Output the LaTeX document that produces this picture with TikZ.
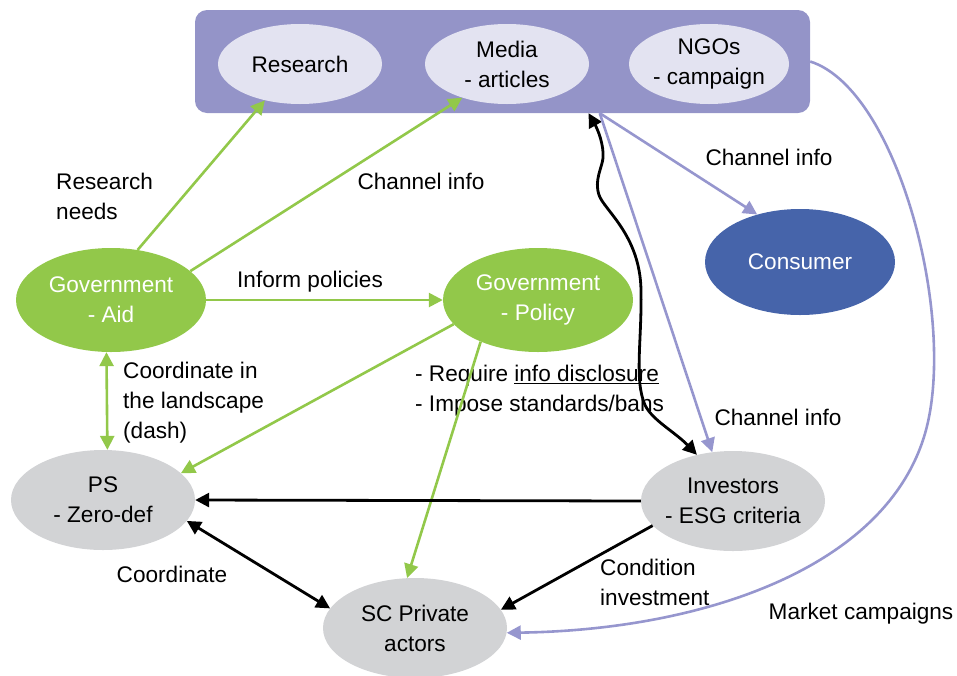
\documentclass[tikz,border=0pt]{standalone}
\usepackage{fontspec}
\setmainfont{Liberation Sans}
\usetikzlibrary{shapes.geometric,arrows.meta}
\definecolor{boxc}{RGB}{148,148,200}
\definecolor{lightc}{RGB}{227,227,241}
\definecolor{greenc}{RGB}{146,200,74}
\definecolor{consc}{RGB}{70,100,170}
\definecolor{grayc}{RGB}{210,211,213}
\definecolor{linec}{RGB}{150,150,206}
\begin{document}
\begin{tikzpicture}[x=1pt,y=-1pt,
  font=\fontsize{22.6}{30}\selectfont,
  ell/.style={ellipse, inner sep=-14pt, align=center},
  topell/.style={ell, fill=lightc, minimum width=164pt, minimum height=80pt},
  greenell/.style={ell, fill=greenc, text=white, minimum width=190pt, minimum height=104pt},
  grayell/.style={ell, fill=grayc, minimum width=184pt, minimum height=100pt},
  lbl/.style={align=left, inner sep=0pt},
  garrow/.style={draw=greenc, line width=2.6pt, -{Triangle[length=14pt,width=14pt]}},
  gdarrow/.style={draw=greenc, line width=2.6pt, {Triangle[length=14pt,width=14pt]}-{Triangle[length=14pt,width=14pt]}},
  parrow/.style={draw=linec, line width=2.6pt, -{Triangle[length=14pt,width=14pt]}},
  karrow/.style={draw=black, line width=2.8pt, -{Triangle[length=14pt,width=14pt]}},
  kdarrow/.style={draw=black, line width=2.8pt, {Triangle[length=14pt,width=14pt]}-{Triangle[length=14pt,width=14pt]}}
]
\useasboundingbox (0,0) rectangle (957,675);

% top box
\node[fill=boxc, rounded corners=12pt, inner sep=0pt, minimum width=615pt, minimum height=103pt] (box) at (502.5,61.5) {};
\node[topell] (res) at (300,64) {Research};
\node[topell] (med) at (507,64) {Media\\- articles};
\node[topell, minimum width=160pt] (ngo) at (709,64) {NGOs\\- campaign};

% other nodes
\node[ell, fill=consc, text=white, minimum width=190pt, minimum height=106pt] (cons) at (800,262) {Consumer};
\node[greenell] (ga) at (111,300) {Government\\- Aid};
\node[greenell] (gp) at (538,300) {Government\\- Policy};
\node[grayell] (ps) at (103,500) {PS\\- Zero-def};
\node[grayell] (inv) at (733,501) {Investors\\- ESG criteria};
\node[grayell] (sc) at (415,628) {SC Private\\actors};

% labels
\node[lbl, anchor=west] (l1) at (56,196) {Research\\needs};
\node[lbl] (l2) at (421,181) {Channel info};
\node[lbl] (l3) at (310,282) {Inform policies};
\node[lbl, anchor=west] (l4) at (123,403) {Coordinate in\\the landscape\\(dash)};
\node[lbl, anchor=west] (l5) at (415,391) {- Require \underline{info disclosure}\\- Impose standards/bans};
\node[lbl] (l6) at (769,157) {Channel info};
\node[lbl] (l7) at (778,417) {Channel info};
\node[lbl] (l8) at (172,574) {Coordinate};
\node[lbl, anchor=west] (l9) at (600,582) {Condition\\investment};
\node[lbl] (l10) at (861,614) {Market campaigns};

% green connectors
\draw[garrow] (ga.62.5) -- (res.226);
\draw[garrow] (ga.20) -- (med.217);
\draw[garrow] (ga.east) -- (gp.west);
\draw[gdarrow] (ga.265.6) -- (ps.85.5);
\draw[garrow] (gp.196) -- (ps.19);
\draw[garrow] (gp.216) -- (sc.99);

% black connectors
\draw[karrow] (inv.west) -- (ps.east);
\draw[kdarrow] (ps.346) -- (sc.167);
\draw[karrow] (inv.197.8) -- (sc.12.8);
\draw[kdarrow] (box.329)
  .. controls (598,130) and (604,145) .. (603,158)
  .. controls (602,168) and (594,180) .. (599,195)
  .. controls (604,210) and (640,235) .. (641,290)
  .. controls (642,340) and (634,380) .. (645,405)
  .. controls (652,420) and (675,432) .. (inv.128);

% purple connectors
\draw[parrow] (box.332.9) -- (cons.132);
\draw[parrow] (box.332.9) -- (inv.113);
\draw[parrow] (box.east)
  .. controls (900,90) and (960,330) .. (923,440)
  .. controls (880,570) and (700,630) .. (sc.357.5);
\end{tikzpicture}
\end{document}
